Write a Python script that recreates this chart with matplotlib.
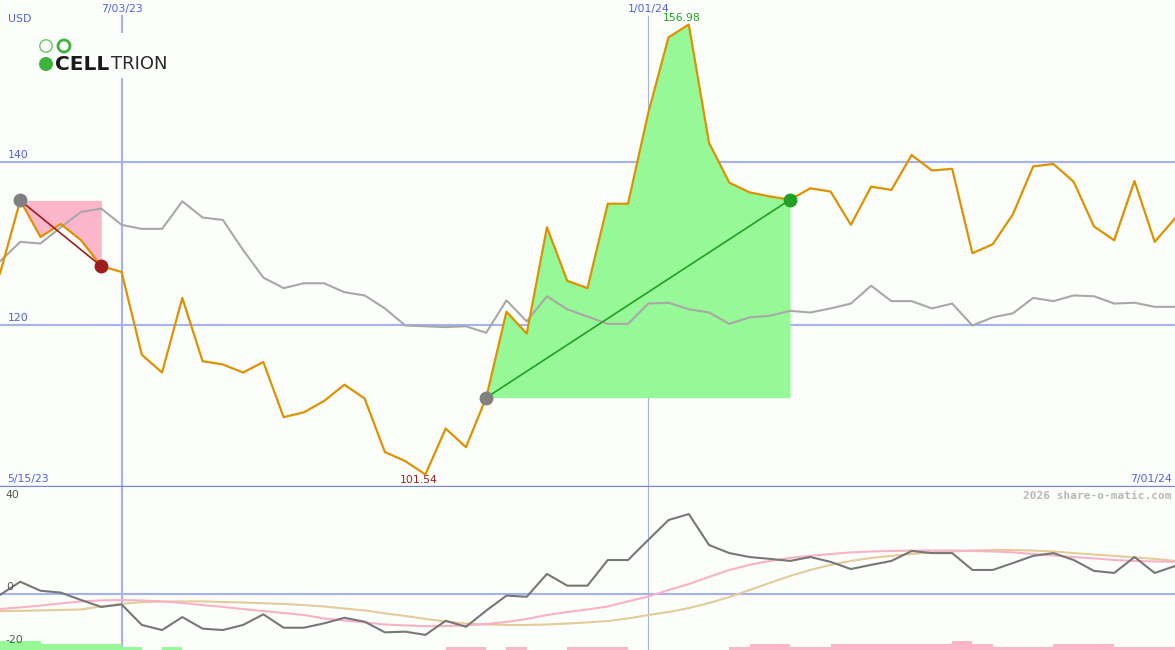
import numpy as np
import pandas as pd
import matplotlib
matplotlib.use('Agg')
import matplotlib.pyplot as plt
from matplotlib.patches import Circle, Rectangle
from matplotlib.transforms import blended_transform_factory, IdentityTransform

# weekly closes, 5/22/23 .. 7/01/24
weeks = pd.date_range('2023-05-22', '2024-07-01', freq='7D')

price = [126.3, 135.3, 130.8, 132.4, 130.4, 127.2, 126.5, 116.3, 114.1, 123.3,
         115.5, 115.1, 114.1, 115.4, 108.6, 109.2, 110.6, 112.6, 110.9, 104.3,
         103.2, 101.54, 107.2, 104.9, 111.0, 121.6, 118.9, 132.0, 125.4, 124.5,
         134.9, 134.9, 146.1, 155.4, 156.98, 142.4, 137.5, 136.3, 135.8, 135.4,
         136.8, 136.4, 132.3, 137.0, 136.6, 140.9, 139.0, 139.2, 128.8, 129.9,
         133.6, 139.5, 139.8, 137.6, 132.1, 130.4, 137.7, 130.2, 133.1]

bench = [127.8, 130.2, 130.0, 132.0, 133.9, 134.3, 132.3, 131.8, 131.8, 135.2,
         133.2, 132.9, 129.2, 125.8, 124.5, 125.1, 125.1, 124.0, 123.6, 122.0,
         119.9, 119.8, 119.7, 119.8, 119.0, 123.0, 120.4, 123.5, 121.9, 121.0,
         120.1, 120.1, 122.6, 122.7, 121.9, 121.5, 120.1, 120.9, 121.1, 121.7,
         121.5, 122.0, 122.6, 124.8, 122.9, 122.9, 122.0, 122.6, 119.9, 120.9,
         121.4, 123.3, 122.9, 123.6, 123.5, 122.6, 122.7, 122.2, 122.2]

rel = [-0.4, 5.3, 1.4, 0.6, -2.6, -5.6, -4.5, -13.4, -15.6, -10.0,
       -15.0, -15.6, -13.4, -8.8, -14.6, -14.6, -12.7, -10.3, -12.0, -16.6,
       -16.3, -17.7, -11.6, -14.2, -7.2, -0.7, -1.2, 8.7, 3.6, 3.6,
       14.7, 14.7, 23.4, 32.0, 34.6, 21.2, 17.7, 16.0, 15.2, 14.3,
       16.0, 13.9, 10.8, 12.6, 14.3, 18.6, 17.7, 17.7, 10.4, 10.4,
       13.4, 16.5, 17.7, 14.7, 10.0, 9.1, 16.0, 9.1, 12.1]

ma_fast = [-6.5, -5.8, -5.0, -4.1, -3.2, -2.8, -2.6, -2.8, -3.2, -3.9,
           -4.8, -5.6, -6.5, -7.4, -8.2, -9.1, -10.6, -11.5, -12.3, -13.2,
           -13.6, -13.9, -13.9, -13.6, -13.0, -12.1, -10.8, -9.1, -7.8, -6.7,
           -5.4, -3.2, -1.1, 1.7, 4.3, 7.4, 10.4, 12.6, 14.3, 15.6,
           16.5, 17.3, 18.0, 18.4, 18.6, 18.8, 18.8, 18.8, 18.6, 18.4,
           18.0, 17.3, 16.7, 16.0, 15.4, 14.7, 14.3, 14.1, 13.9]

ma_slow = [-7.4, -7.3, -7.1, -6.9, -6.7, -5.4, -4.3, -3.5, -3.3, -3.2,
           -3.2, -3.5, -3.7, -4.0, -4.3, -4.8, -5.4, -6.3, -7.1, -8.4,
           -9.5, -10.8, -11.9, -12.8, -13.2, -13.4, -13.4, -13.2, -12.8, -12.3,
           -11.7, -10.6, -9.1, -7.8, -6.1, -3.9, -1.3, 1.7, 4.8, 7.8,
           10.4, 12.6, 14.3, 15.6, 16.5, 17.3, 18.0, 18.4, 18.8, 19.0,
           19.0, 18.8, 18.4, 17.7, 17.1, 16.5, 15.8, 15.2, 14.3]

# signal bars (+ green, - pink)
bars = [3.9, 3.9, 2.6, 2.6, 2.6, 2.6, 1.3, 0, 1.3, 0,
        0, 0, 0, 0, 0, 0, 0, 0, 0, 0,
        0, 0, -1.3, -1.3, 0, -1.3, 0, 0, -1.3, -1.3,
        -1.3, 0, 0, 0, 0, 0, -1.3, -2.6, -2.6, -1.3,
        -1.3, -2.6, -2.6, -2.6, -2.6, -2.6, -2.6, -3.9, -2.6, -1.3,
        -1.3, -1.3, -2.6, -2.6, -2.6, -1.3, -1.3, -1.3, -1.3]

price_ticks = [140, 120]
osc_ticks = [40, 0, -20]
date_marks = ['2023-07-03', '2024-01-01']
date_labels = ['7/03/23', '1/01/24']
loss_period = (1, 5)
gain_period = (24, 39)

bg = '#fcfefb'
grid = '#a4b2f2'
blue_txt = '#5060e0'

plt.rcParams['font.family'] = ['DejaVu Sans']
fig = plt.figure(figsize=(11.75, 6.5), dpi=100, facecolor=bg)
ax = fig.add_axes([0, 163 / 650, 1, 487 / 650], facecolor=bg)
ax2 = fig.add_axes([0, 0, 1, 163 / 650], facecolor=bg)

for a in (ax, ax2):
    a.set_xlim(weeks[0], weeks[-1])
    for s in a.spines.values():
        s.set_visible(False)
    a.set_xticks([])
    a.set_yticks([])

ax.set_ylim(100, 160)
ax2.set_ylim(-24.24, 46.3)

# grid
for v in price_ticks:
    ax.axhline(v, color=grid, lw=1.5, zorder=1)
ax.axhline(100, color='#7282ea', lw=2.4, zorder=6, clip_on=False)
ax2.axhline(0, color=grid, lw=1.5, zorder=1)
d0, d1 = pd.Timestamp(date_marks[0]), pd.Timestamp(date_marks[1])
ax.axvline(d0, ymax=1 - 16 / 487, color=grid, lw=1.5, zorder=1)
ax.axvline(d1, ymax=1 - 16 / 487, color='#a8b0dc', lw=0.8, zorder=1)
ax2.axvline(d0, color=grid, lw=1.5, zorder=1)
ax2.axvline(d1, color='#a8b0dc', lw=0.8, zorder=1)

# loss / gain areas
a0, a1 = loss_period
ax.fill_between(weeks[a0:a1 + 1], price[a0:a1 + 1], price[a0],
                color='#fbb6cb', lw=0, zorder=2)
g0, g1 = gain_period
ax.fill_between(weeks[g0:g1 + 1], price[g0:g1 + 1], price[g0],
                color='#96f896', lw=0, zorder=2)

ax.plot(weeks, bench, color='#a8a8a8', lw=1.5, zorder=3)
ax.plot(weeks, price, color='#dd9200', lw=1.6, zorder=4)

ax.plot([weeks[a0], weeks[a1]], [price[a0], price[a1]], color='#a01c1c', lw=1.2, zorder=5)
ax.plot([weeks[g0], weeks[g1]], [price[g0], price[g1]], color='#22a022', lw=1.2, zorder=5)
ax.plot(weeks[a0], price[a0], 'o', color='#808080', ms=9, zorder=5)
ax.plot(weeks[a1], price[a1], 'o', color='#a01c1c', ms=9, zorder=5)
ax.plot(weeks[g0], price[g0], 'o', color='#808080', ms=9, zorder=5)
ax.plot(weeks[g1], price[g1], 'o', color='#22a022', ms=9, zorder=5)

# lower panel
ax2.bar(weeks, np.abs(bars), width=7, align='edge', bottom=-24.24,
        color=['#96f896' if b > 0 else '#fbb6cb' for b in bars], lw=0, zorder=1)
ax2.plot(weeks, ma_slow, color='#e3cb9a', lw=1.5, zorder=2)
ax2.plot(weeks, ma_fast, color='#f8b2c8', lw=1.5, zorder=2)
ax2.plot(weeks, rel, color='#777777', lw=1.5, zorder=3)

# labels
fs = 7.8
tr = blended_transform_factory(ax.transAxes, ax.transData)
for v in price_ticks:
    ax.text(0.007, v + 0.25, str(v), transform=tr, color=blue_txt, fontsize=fs, va='bottom')
tr2 = blended_transform_factory(ax2.transAxes, ax2.transData)
for v in osc_ticks:
    ax2.text(0.005, v + 0.8 if v >= 0 else v, str(v), transform=tr2, color='#555555',
             fontsize=fs, va='bottom' if v >= 0 else 'center')
ax.text(0.007, 0.96, 'USD', transform=ax.transAxes, color=blue_txt, fontsize=fs, va='center')
trx = blended_transform_factory(ax.transData, ax.transAxes)
for d, lab in zip(date_marks, date_labels):
    ax.text(pd.Timestamp(d), 0.981, lab, transform=trx, color=blue_txt, fontsize=fs,
            ha='center', va='center')
ax.text(0.006, 0.017, '5/15/23', transform=ax.transAxes, color=blue_txt, fontsize=fs, va='center')
ax.text(0.997, 0.017, '7/01/24', transform=ax.transAxes, color=blue_txt, fontsize=fs,
        va='center', ha='right')
ax2.text(0.997, 0.945, '2026 share-o-matic.com', transform=ax2.transAxes, color='#b8b8b8',
         fontsize=8, family='DejaVu Sans Mono', fontweight='bold', ha='right', va='center')

imax = int(np.argmax(price))
imin = int(np.argmin(price))
ax.annotate(f'{price[imax]:.2f}', (weeks[imax], price[imax]), xytext=(-5, 1),
            textcoords='offset points', ha='center', va='bottom', color='#22a022', fontsize=fs)
ax.annotate(f'{price[imin]:.2f}', (weeks[imin], price[imin]), xytext=(-5, -0.5),
            textcoords='offset points', ha='center', va='top', color='#a01c1c', fontsize=fs)

# logo
H = 650
fig.add_artist(Rectangle((36, H - 78), 134, 45, transform=IdentityTransform(),
                         facecolor=bg, edgecolor='none', zorder=10))
fig.add_artist(Circle((46, H - 46), 6.2, transform=IdentityTransform(), fill=False,
                      edgecolor='#6cc46c', lw=1.0, zorder=11))
fig.add_artist(Circle((64, H - 46), 6.0, transform=IdentityTransform(), fill=False,
                      edgecolor='#3cb43c', lw=2.0, zorder=11))
fig.add_artist(Circle((46, H - 64), 7.0, transform=IdentityTransform(),
                      facecolor='#3cb43c', edgecolor='none', zorder=11))
fig.text(55 / 1175, 1 - 64 / H, 'CELL', fontsize=14.5, fontweight='heavy', color='#1a1a1a',
         va='center', ha='left', zorder=12)
fig.text(111 / 1175, 1 - 64 / H, 'TRION', fontsize=13, fontweight='normal', color='#2a2a2a',
         va='center', ha='left', zorder=12)

fig.savefig('out.png', dpi=100, facecolor=bg)
